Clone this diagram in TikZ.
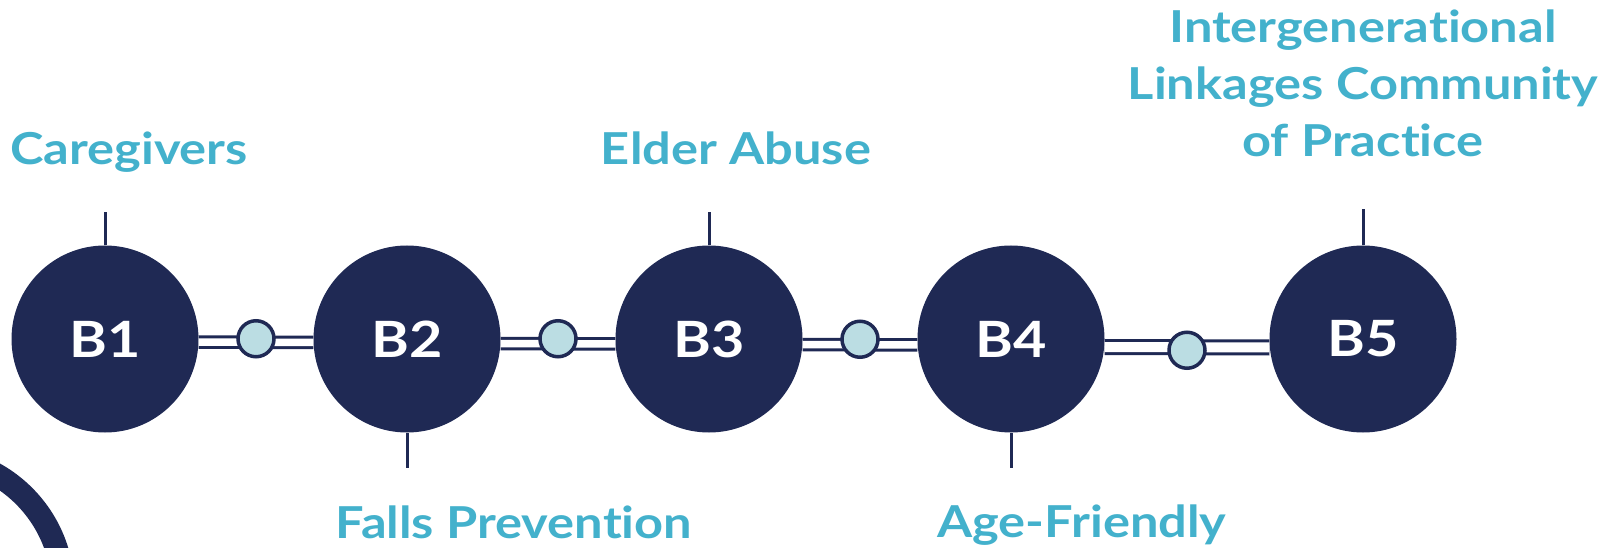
\documentclass[tikz,border=0pt]{standalone}
\usepackage{fontspec}
\setmainfont{Lato}[FakeStretch=1.15, Ligatures={NoCommon}]
\usetikzlibrary{positioning}
\definecolor{navy}{HTML}{1F2954}
\definecolor{sky}{HTML}{43B1CC}
\definecolor{pale}{HTML}{BBDDE3}

\begin{document}
\begin{tikzpicture}[x=1pt, y=1pt, node distance={302pt},
    main/.style = {circle, fill=navy, minimum size=187pt, inner sep=0pt, text=white, font=\fontsize{50}{60}\selectfont\bfseries},
    dot/.style = {draw=navy, circle, line width=3.5pt, fill=pale, minimum size=36pt, inner sep=0pt},
    link/.style = {draw=navy, line width=3pt, double=white, double distance=7.5pt},
    tick/.style = {draw=navy, line width=3pt},
    lbl/.style = {text=sky, font=\fontsize{44}{57}\selectfont\bfseries, align=center, anchor=base, inner sep=0pt}]
    \useasboundingbox (0,0) rectangle (1610,547);
    % ring cut off at the corner
    \draw[navy, line width=23pt] (-70,-43) circle (133);

    \node[main] (1) at (105,208) {B1};
    \node[main] (2) [right of=1] {B2};
    \node[main] (3) [right of=2] {B3};
    \node[main] (4) [right of=3] {B4};
    \node[main, xshift=50pt] (5) [right of=4] {B5};

    \draw[link] ([yshift=-3pt]1.east) -- node[dot, yshift=3.5pt] (d1) {} ([yshift=-3.5pt]2.west);
    \draw[link] ([yshift=-4.5pt]2.east) -- node[dot, yshift=5pt] (d2) {} ([yshift=-5pt]3.west);
    \draw[link] ([yshift=-5.5pt]3.east) -- node[dot, yshift=5.5pt] (d3) {} ([yshift=-6pt]4.west);
    \draw[link, double distance=10pt] ([yshift=-8pt]4.east) -- node[dot, yshift=-3pt] (d4) {} ([yshift=-8.5pt]5.west);

    \coordinate (t1) at ([yshift=33pt]1.north);
    \coordinate (t2) at ([yshift=-35pt]2.south);
    \coordinate (t3) at ([yshift=33pt]3.north);
    \coordinate (t4) at ([yshift=-35pt]4.south);
    \coordinate (t5) at ([yshift=36pt]5.north);
    \draw[tick] (1) -- (t1);
    \draw[tick] (2) -- (t2);
    \draw[tick] (3) -- (t3);
    \draw[tick] (4) -- (t4);
    \draw[tick] (5) -- (t5);

    \node[lbl] (l1) at (129,382) {Caregivers};
    \node[lbl] (l2) at (514,9) {Falls Prevention};
    \node[lbl] (l3) at (736,382) {Elder Abuse};
    \node[lbl] (l4) at (1082,10) {Age-Friendly};
    \node[lbl] (l5) at (1363,390) {Intergenerational\\Linkages Community\\of Practice};
\end{tikzpicture}
\end{document}
